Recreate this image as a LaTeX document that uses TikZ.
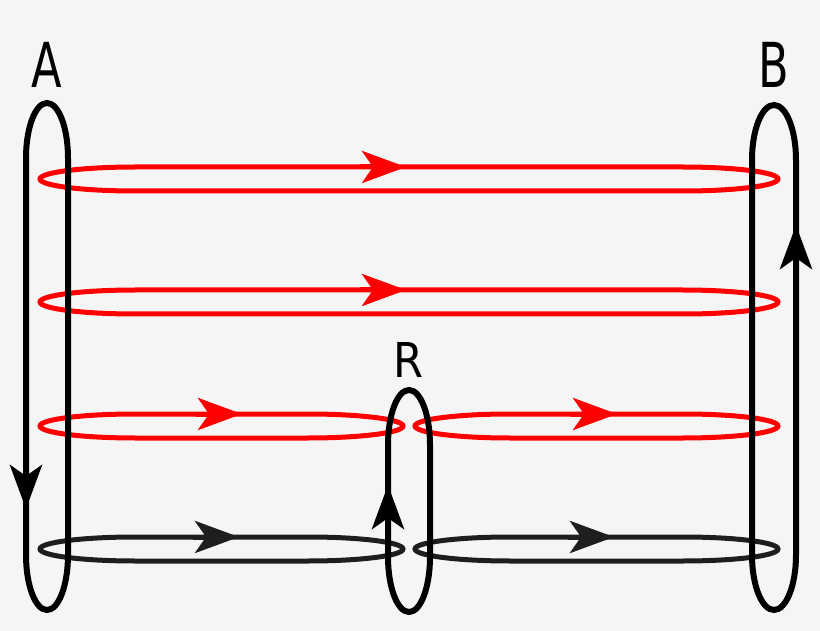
\documentclass[tikz,border=0pt]{standalone}
\usepackage{fontspec}
\newfontfamily\labelfont[FakeStretch=0.72]{DejaVu Sans}
\newfontfamily\rlabelfont[FakeStretch=0.9]{DejaVu Sans}
\usetikzlibrary{arrows.meta}
\definecolor{loopred}{HTML}{FF0000}
\definecolor{loopgray}{HTML}{1E1E1E}
\definecolor{paper}{HTML}{F5F5F5}
% horizontal loop: style, left x, right x, mid y
\newcommand{\hloop}[4]{\draw[#1] (#2+95,#4-12) -- (#3-95,#4-12) arc[start angle=-90,end angle=90,x radius=95,y radius=12] -- (#2+95,#4+12) arc[start angle=90,end angle=270,x radius=95,y radius=12] -- cycle;}
% vertical loop: mid x, half width, top y, bottom y
\newcommand{\vloop}[4]{\draw[ring] (#1-#2,#3+55) -- (#1-#2,#4-55) arc[start angle=180,end angle=0,x radius=#2,y radius=55] -- (#1+#2,#3+55) arc[start angle=0,end angle=-180,x radius=#2,y radius=55] -- cycle;}
\begin{document}
\begin{tikzpicture}[x=1pt,y=-1pt,>={Stealth[length=44pt,width=32pt,inset=11pt]},
	redloop/.style={draw=loopred,line width=5pt},
	grayloop/.style={draw=loopgray,line width=5pt},
	ring/.style={draw=black,line width=6pt},
	lbl/.style={inner sep=0pt,font=\labelfont\fontsize{62}{62}\selectfont}]
	\fill[paper] (0,0) rectangle (820,631);
	\useasboundingbox (0,0) rectangle (820,631);
	% red loops
	\hloop{redloop}{40}{778}{179}
	\hloop{redloop}{40}{778}{302}
	\hloop{redloop}{40}{403}{426}
	\hloop{redloop}{415}{778}{426}
	% black loops
	\hloop{grayloop}{40}{403}{549}
	\hloop{grayloop}{415}{778}{549}
	% arrows on the horizontal loops
	\draw[redloop,->] (360,167)--(406,167);
	\draw[redloop,->] (360,290)--(406,290);
	\draw[redloop,->] (196,414)--(242,414);
	\draw[redloop,->] (571,414)--(617,414);
	\draw[grayloop,->] (193,537)--(239,537);
	\draw[grayloop,->] (568,537)--(614,537);
	% vertical loops
	\vloop{47}{21}{103}{610}
	\vloop{774}{22}{105}{610}
	\vloop{409}{21}{390}{612}
	\draw[ring,->] (26,463)--(26,509);
	\draw[ring,->] (796,271)--(796,225);
	\draw[ring,->] (388,531)--(388,485);
	% labels
	\node[lbl] (labA) at (47,64.5) {A};
	\node[lbl] (labB) at (774,65) {B};
	\node[lbl,font=\rlabelfont\fontsize{48}{48}\selectfont] (labR) at (409,360.5) {R};
\end{tikzpicture}
\end{document}
